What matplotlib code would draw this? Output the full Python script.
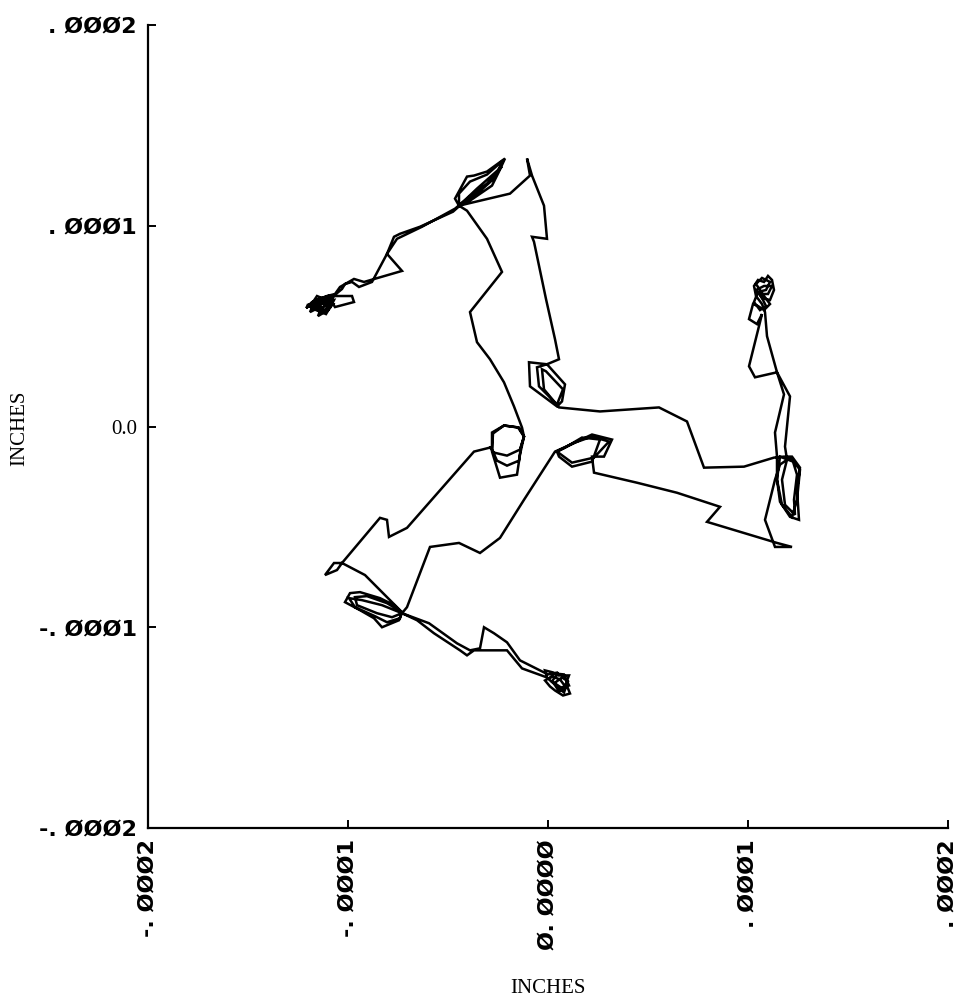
import numpy as np
import matplotlib
matplotlib.use("Agg")
import matplotlib.pyplot as plt

# Trajectory (micro-inches)
X_UIN = [
    -29, -27, -20.5, -14, -12, -14.5, -22, -28, -28, -25.5, -20.5, -14.5, -13.5, -12, -15, -22, -27.5, -28, -24, -15.5, -14, -12, -13,
    -17, -22, -29, -35.5, -37, -39, -23, -30.5, -40.5, -44.5,
    -46.5, -40.5, -37, -30.5, -21.5, -24.5, -28, -39, -44.5, -44.5, -39, -30.5, -22.5, -27, -36.5, -43,
    -47.5, -53, -64, -74, -77, -80.5, -73, -92, -97, -104, -106.5,
    -110.5, -114.5, -118, -120.5, -116.5, -113, -109.5, -115.5, -118.5, -111.5, -107.5, -114, -117, -110.5, -106.5,
    -110, -116, -121, -117, -119, -113, -115, -110, -112, -107, -109, -114, -118, -114, -108, -111, -116, -120.5, -115, -110, -107,
    -98, -97, -106.5, -109, -103, -101.5, -98, -94.5, -88,
    -80.5, -75.5, -63, -46.5,
    -40.5, -30.5, -23, -35.5, -44.5,
    -19, -9, -10.5, -8, -2, -0.5, -8, -7, -1, 3.5, 5.5,
    -0.5, -9.5, -9, 4.5, 7, 8.5, -0.5, -5.5, -4.5, 4.5, 7.5, -1, -3, -2, 5.5,
    26, 55.5, 64.5, 69.5, 78, 98, 113, 118,
    122, 126, 124.5, 125.5, 121, 116, 114.5, 116, 122.5, 124.5, 123, 123.5, 118.5, 117, 119.5,
    118.5, 121, 114.5, 109.5, 108.5,
    107, 104, 103, 105, 108, 110, 112, 113, 111, 107, 104, 108, 112, 110, 106, 109, 106, 103, 105, 109, 111, 107, 104, 108, 111, 108, 105, 102.5,
    100.5, 104.5, 107, 100.5, 103.5, 114.5, 118, 113.5, 114.5,
    114.5, 117, 122, 124.5, 126, 121, 116, 113.5,
    108.5, 113.5, 122, 114.5, 79.5, 86, 64.5, 44.5, 23, 22,
    28, 32, 22, 14.5, 4.5, 5.5, 12, 22, 26, 17, 8.5, 4.5, 12, 23, 30.5, 22, 13.5, 3.5,
    -12, -24, -34, -44.5, -59, -70.5, -73,
    -77, -84, -94, -99, -101.5, -94, -87, -83, -74.5, -73, -80.5, -90.5, -96.5, -95.5, -85.5, -78, -73,
    -65.5, -57, -44, -40.5, -37, -20.5, -13, -0.5,
    -1.5, 2.5, 5, 10.5, 9, 11, 7.5, 3.5, 1, -1.5, 2, 6, 9, 5.5, 3, 7, 10, 8, 4, 0.5, 3, 8, 10.5, 6.5, 2, 5, 0,
    -14, -20.5, -27, -32, -34, -39, -45.5, -59.5, -73,
    -83, -93, -99.5, -96.5, -86.5, -80.5, -74, -73,
    -91.5, -103, -105.5, -111.5, -107, -103, -84, -80.5, -79.5, -70.5, -37, -29,
]
Y_UIN = [
    -10.5, -13, -14.5, -11.5, -5, -0.5, 0.5, -3, -11.5, -17, -19.5, -17, -10, -5, -0.5, 0.5, -3.5, -12.5, -25.5, -24, -14, -5, -0.5,
    10, 22, 33.5, 42, 48.5, 57, 77, 93.5, 107.5, 110,
    113.5, 124.5, 125, 127, 133.5, 127, 120, 112.5, 110, 116, 122, 125.5, 132.5, 123.5, 115, 111,
    107, 104.5, 99.5, 96, 94.5, 86, 77.5, 72, 73.5, 69.5, 66,
    65, 63.5, 62, 59.5, 61, 58.5, 62.5, 65, 60.5, 57, 61, 62.5, 58.5, 63.5, 65.5,
    65, 63, 59, 61.5, 57, 60, 55, 58, 62, 63, 59, 57.5, 60, 64, 61, 56, 58, 60.5, 62, 60, 65,
    65, 62, 59.5, 63.5, 68.5, 71, 72, 69.5, 72,
    86, 93.5, 99.5, 108.5,
    113.5, 121, 129.5, 118.5, 110,
    116, 125, 133.5, 125, 110, 93.5, 94.5, 92, 63.5, 43.5, 33.5,
    31, 32, 20, 10, 12.5, 21, 31, 29.5, 20, 11, 18.5, 27.5, 28.5, 18.5, 9.5,
    7.5, 9.5, 5, 2.5, -20.5, -20, -15.5, -15,
    -15, -20.5, -31.5, -46.5, -45, -37.5, -26.5, -15, -17.5, -24, -36.5, -44, -39, -26.5, -16.5,
    -10, 15, 27, 45, 57,
    61, 65, 70, 73, 72, 75, 73, 68, 63, 64, 68, 70, 70, 66, 66, 60, 58, 62, 67, 68, 72, 74, 71, 65, 61, 58, 60, 61,
    53.5, 51, 56, 30, 24.5, 27, 16, -3, -15,
    -26.5, -39, -45, -36.5, -21.5, -15.5, -19, -26.5,
    -46.5, -60, -60, -58, -47.5, -40, -33, -28, -23, -15,
    -15, -6.5, -4, -7.5, -12.5, -15, -20, -17.5, -6.5, -5.5, -10.5, -12.5, -18, -15.5, -7.5, -5, -8, -12.5,
    -36.5, -55.5, -63, -58, -60, -90, -93,
    -89, -85.5, -82.5, -83, -87.5, -91.5, -95.5, -100, -96.5, -92.5, -88, -84.5, -85, -89, -93, -95, -93,
    -96.5, -103, -111.5, -114, -111.5, -111.5, -120.5, -125,
    -121.5, -122.5, -124, -124, -128, -133, -134, -131.5, -129.5, -126.5, -124.5, -126, -130, -132, -128, -125, -127, -132.5, -129, -126, -123, -123.5, -129, -130, -127, -122.5, -123.5,
    -116.5, -107.5, -103, -100, -110.5, -111.5, -108, -98, -93,
    -89, -86.5, -85.5, -90, -94.5, -97.5, -95.5, -92.5,
    -74, -68, -71.5, -74, -68, -68, -45.5, -46.5, -55, -50.5, -12.5, -10.5,
]

TICKS = [-2e-4, -1e-4, 0.0, 1e-4, 2e-4]
X_TICK_LABELS = ["-. \u00d8\u00d8\u00d82", "-. \u00d8\u00d8\u00d81", "\u00d8. \u00d8\u00d8\u00d8\u00d8",
                 ". \u00d8\u00d8\u00d81", ". \u00d8\u00d8\u00d82"]
Y_TICK_LABELS = ["-. \u00d8\u00d8\u00d82", "-. \u00d8\u00d8\u00d81", "0.0",
                 ". \u00d8\u00d8\u00d81", ". \u00d8\u00d8\u00d82"]
AXIS_LABEL = "INCHES"

x = np.array(X_UIN) * 1e-6
y = np.array(Y_UIN) * 1e-6

fig = plt.figure(figsize=(9.58, 10.05), dpi=100)
ax = fig.add_axes([148 / 958, 177 / 1005, 800 / 958, 803 / 1005])
ax.plot(x, y, color="black", lw=1.8, solid_joinstyle="miter")

ax.set_xlim(-2e-4, 2e-4)
ax.set_ylim(-2e-4, 2e-4)
for s in ["top", "right"]:
    ax.spines[s].set_visible(False)
for s in ["left", "bottom"]:
    ax.spines[s].set_linewidth(1.6)

ax.set_xticks(TICKS)
ax.set_yticks(TICKS)
ax.set_xticklabels(X_TICK_LABELS, rotation=90, fontsize=16, fontweight="bold", family="DejaVu Sans")
ax.set_yticklabels(Y_TICK_LABELS, fontsize=16, fontweight="bold", family="DejaVu Sans")
ax.tick_params(direction="in", length=6, width=1.4, pad=8)
for lab in ax.get_yticklabels():
    if lab.get_text() == "0.0":
        lab.set_family("Liberation Serif")
        lab.set_fontweight("normal")
        lab.set_fontsize(15)

fig.text(20 / 958, 1 - 428 / 1005, AXIS_LABEL, rotation=90, ha="center", va="center",
         family="Liberation Serif", fontsize=15)
fig.text(548 / 958, 1 - 988 / 1005, AXIS_LABEL, ha="center", va="center",
         family="Liberation Serif", fontsize=15)

fig.savefig("out.png", dpi=100)
